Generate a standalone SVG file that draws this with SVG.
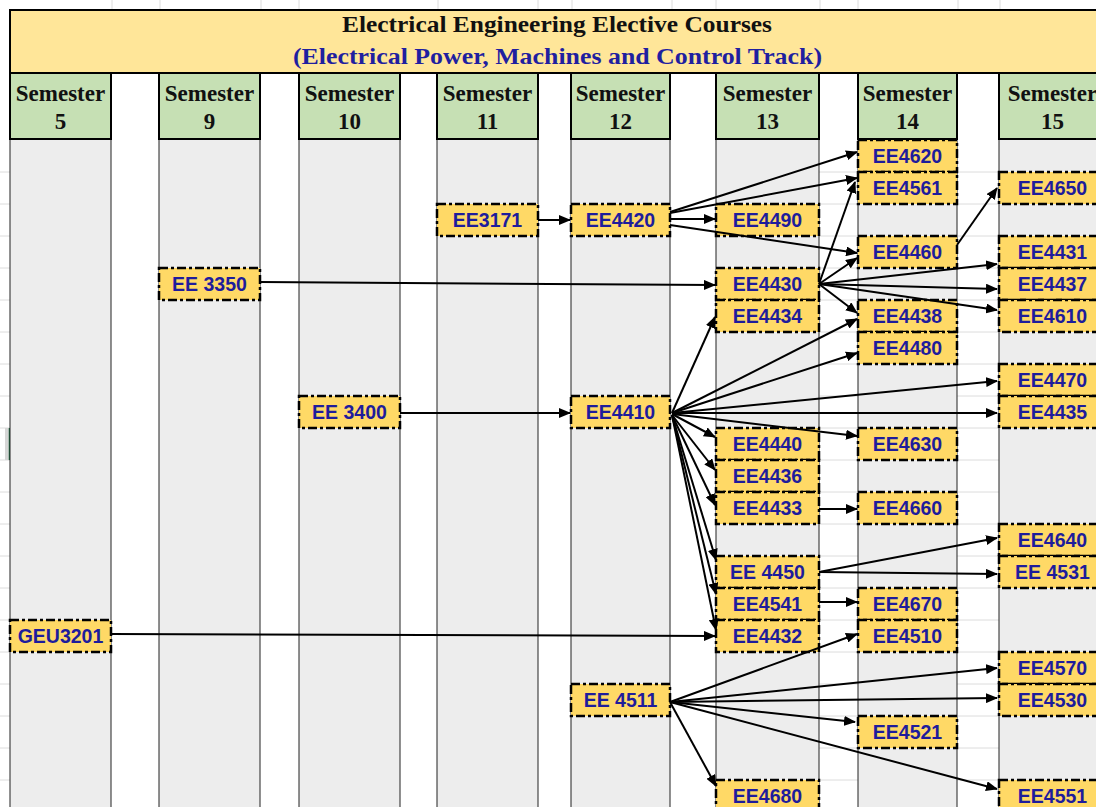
<svg xmlns="http://www.w3.org/2000/svg" width="1096" height="807" viewBox="0 0 1096 807">
<style>
.col{fill:#EDEDED;stroke:#222;stroke-width:1}
.hdr{fill:#C6E0B4;stroke:#000;stroke-width:2}
.sem{font-family:"Liberation Serif","Times New Roman",serif;font-weight:bold;font-size:23px;fill:#111;text-anchor:middle}
.node rect{fill:#FFD966;stroke:#000;stroke-width:2.5;stroke-dasharray:9 3 3 3}
.node text{font-family:"Liberation Sans",Arial,sans-serif;font-weight:bold;font-size:19.5px;fill:#1E1C9C;text-anchor:middle}
.grid{stroke:#DCDCDC;stroke-width:1}
#connectors line{stroke:#000;stroke-width:2;marker-end:url(#ah)}
</style>
<defs>
<marker id="ah" markerUnits="userSpaceOnUse" markerWidth="12" markerHeight="10" refX="11" refY="5" orient="auto">
<path d="M0,0 L12,5 L0,10 z" fill="#000"/>
</marker>
</defs>
<rect x="0" y="0" width="1096" height="807" fill="#fff"/>
<g class="grid">
<line x1="112" y1="0" x2="112" y2="10"/><line x1="160" y1="0" x2="160" y2="10"/><line x1="261" y1="0" x2="261" y2="10"/><line x1="299" y1="0" x2="299" y2="10"/><line x1="438" y1="0" x2="438" y2="10"/><line x1="538" y1="0" x2="538" y2="10"/><line x1="572" y1="0" x2="572" y2="10"/><line x1="672" y1="0" x2="672" y2="10"/><line x1="716" y1="0" x2="716" y2="10"/><line x1="820" y1="0" x2="820" y2="10"/><line x1="858" y1="0" x2="858" y2="10"/><line x1="958" y1="0" x2="958" y2="10"/><line x1="1000" y1="0" x2="1000" y2="10"/>
</g>
<g class="grid">
<line x1="0" y1="172" x2="10" y2="172"/><line x1="0" y1="204" x2="10" y2="204"/><line x1="0" y1="236" x2="10" y2="236"/><line x1="0" y1="268" x2="10" y2="268"/><line x1="0" y1="300" x2="10" y2="300"/><line x1="0" y1="332" x2="10" y2="332"/><line x1="0" y1="364" x2="10" y2="364"/><line x1="0" y1="396" x2="10" y2="396"/><line x1="0" y1="428" x2="10" y2="428"/><line x1="0" y1="460" x2="10" y2="460"/><line x1="0" y1="492" x2="10" y2="492"/><line x1="0" y1="524" x2="10" y2="524"/><line x1="0" y1="556" x2="10" y2="556"/><line x1="0" y1="588" x2="10" y2="588"/><line x1="0" y1="620" x2="10" y2="620"/><line x1="0" y1="652" x2="10" y2="652"/><line x1="0" y1="684" x2="10" y2="684"/><line x1="0" y1="716" x2="10" y2="716"/><line x1="0" y1="748" x2="10" y2="748"/><line x1="0" y1="780" x2="10" y2="780"/>
<line x1="819" y1="172" x2="858" y2="172"/><line x1="819" y1="204" x2="858" y2="204"/><line x1="819" y1="236" x2="858" y2="236"/><line x1="819" y1="268" x2="858" y2="268"/><line x1="819" y1="300" x2="858" y2="300"/><line x1="819" y1="332" x2="858" y2="332"/><line x1="819" y1="364" x2="858" y2="364"/><line x1="819" y1="396" x2="858" y2="396"/><line x1="819" y1="428" x2="858" y2="428"/><line x1="819" y1="460" x2="858" y2="460"/><line x1="819" y1="492" x2="858" y2="492"/><line x1="819" y1="524" x2="858" y2="524"/><line x1="819" y1="556" x2="858" y2="556"/><line x1="819" y1="588" x2="858" y2="588"/><line x1="819" y1="620" x2="858" y2="620"/><line x1="819" y1="652" x2="858" y2="652"/><line x1="819" y1="684" x2="858" y2="684"/><line x1="819" y1="716" x2="858" y2="716"/><line x1="819" y1="748" x2="858" y2="748"/><line x1="819" y1="780" x2="858" y2="780"/>
<line x1="957" y1="172" x2="999" y2="172"/><line x1="957" y1="204" x2="999" y2="204"/><line x1="957" y1="236" x2="999" y2="236"/><line x1="957" y1="268" x2="999" y2="268"/><line x1="957" y1="300" x2="999" y2="300"/><line x1="957" y1="332" x2="999" y2="332"/><line x1="957" y1="364" x2="999" y2="364"/><line x1="957" y1="396" x2="999" y2="396"/><line x1="957" y1="428" x2="999" y2="428"/><line x1="957" y1="460" x2="999" y2="460"/><line x1="957" y1="492" x2="999" y2="492"/><line x1="957" y1="524" x2="999" y2="524"/><line x1="957" y1="556" x2="999" y2="556"/><line x1="957" y1="588" x2="999" y2="588"/><line x1="957" y1="620" x2="999" y2="620"/><line x1="957" y1="652" x2="999" y2="652"/><line x1="957" y1="684" x2="999" y2="684"/><line x1="957" y1="716" x2="999" y2="716"/><line x1="957" y1="748" x2="999" y2="748"/><line x1="957" y1="780" x2="999" y2="780"/>
</g>
<rect x="5" y="428" width="5" height="32" fill="#D6D6D6"/>
<line x1="9.5" y1="428" x2="9.5" y2="460" stroke="#217346" stroke-width="1.5"/>
<g id="columns">
<rect class="col" x="10" y="139" width="101" height="680"/>
<rect class="col" x="159" y="139" width="101" height="680"/>
<rect class="col" x="299" y="139" width="101" height="680"/>
<rect class="col" x="437" y="139" width="101" height="680"/>
<rect class="col" x="571" y="139" width="99" height="680"/>
<rect class="col" x="716" y="139" width="103" height="680"/>
<rect class="col" x="858" y="139" width="99" height="680"/>
<rect class="col" x="999" y="139" width="107" height="680"/>
</g>
<g id="title">
<rect x="10" y="10" width="1100" height="63" fill="#FFE699" stroke="#000" stroke-width="2"/>
<text x="557" y="32" textLength="430" lengthAdjust="spacingAndGlyphs" style="font-family:'Liberation Serif','Times New Roman',serif;font-weight:bold;font-size:23px;fill:#111;text-anchor:middle">Electrical Engineering Elective Courses</text>
<text x="557.5" y="64" textLength="529" lengthAdjust="spacingAndGlyphs" style="font-family:'Liberation Serif','Times New Roman',serif;font-weight:bold;font-size:23px;fill:#1F1FA0;text-anchor:middle">(Electrical Power, Machines and Control Track)</text>
</g>
<g id="sem5"><rect class="hdr" x="10" y="73" width="101" height="66"/><text class="sem" x="60.5" y="101">Semester</text><text class="sem" x="60.5" y="129">5</text></g>
<g id="sem9"><rect class="hdr" x="159" y="73" width="101" height="66"/><text class="sem" x="209.5" y="101">Semester</text><text class="sem" x="209.5" y="129">9</text></g>
<g id="sem10"><rect class="hdr" x="299" y="73" width="101" height="66"/><text class="sem" x="349.5" y="101">Semester</text><text class="sem" x="349.5" y="129">10</text></g>
<g id="sem11"><rect class="hdr" x="437" y="73" width="101" height="66"/><text class="sem" x="487.5" y="101">Semester</text><text class="sem" x="487.5" y="129">11</text></g>
<g id="sem12"><rect class="hdr" x="571" y="73" width="99" height="66"/><text class="sem" x="620.5" y="101">Semester</text><text class="sem" x="620.5" y="129">12</text></g>
<g id="sem13"><rect class="hdr" x="716" y="73" width="103" height="66"/><text class="sem" x="767.5" y="101">Semester</text><text class="sem" x="767.5" y="129">13</text></g>
<g id="sem14"><rect class="hdr" x="858" y="73" width="99" height="66"/><text class="sem" x="907.5" y="101">Semester</text><text class="sem" x="907.5" y="129">14</text></g>
<g id="sem15"><rect class="hdr" x="999" y="73" width="107" height="66"/><text class="sem" x="1052.5" y="101">Semester</text><text class="sem" x="1052.5" y="129">15</text></g>
<g id="EE4620" class="node"><rect x="858" y="140" width="99" height="32"/><text x="907.5" y="163">EE4620</text></g>
<g id="EE4561" class="node"><rect x="858" y="172" width="99" height="32"/><text x="907.5" y="195">EE4561</text></g>
<g id="EE4650" class="node"><rect x="999" y="172" width="107" height="32"/><text x="1052.5" y="195">EE4650</text></g>
<g id="EE3171" class="node"><rect x="437" y="204" width="101" height="32"/><text x="487.5" y="227">EE3171</text></g>
<g id="EE4420" class="node"><rect x="571" y="204" width="99" height="32"/><text x="620.5" y="227">EE4420</text></g>
<g id="EE4490" class="node"><rect x="716" y="204" width="103" height="32"/><text x="767.5" y="227">EE4490</text></g>
<g id="EE4460" class="node"><rect x="858" y="236" width="99" height="32"/><text x="907.5" y="259">EE4460</text></g>
<g id="EE4431" class="node"><rect x="999" y="236" width="107" height="32"/><text x="1052.5" y="259">EE4431</text></g>
<g id="EE3350" class="node"><rect x="159" y="268" width="101" height="32"/><text x="209.5" y="291">EE 3350</text></g>
<g id="EE4430" class="node"><rect x="716" y="268" width="103" height="32"/><text x="767.5" y="291">EE4430</text></g>
<g id="EE4437" class="node"><rect x="999" y="268" width="107" height="32"/><text x="1052.5" y="291">EE4437</text></g>
<g id="EE4434" class="node"><rect x="716" y="300" width="103" height="32"/><text x="767.5" y="323">EE4434</text></g>
<g id="EE4438" class="node"><rect x="858" y="300" width="99" height="32"/><text x="907.5" y="323">EE4438</text></g>
<g id="EE4610" class="node"><rect x="999" y="300" width="107" height="32"/><text x="1052.5" y="323">EE4610</text></g>
<g id="EE4480" class="node"><rect x="858" y="332" width="99" height="32"/><text x="907.5" y="355">EE4480</text></g>
<g id="EE4470" class="node"><rect x="999" y="364" width="107" height="32"/><text x="1052.5" y="387">EE4470</text></g>
<g id="EE3400" class="node"><rect x="299" y="396" width="101" height="32"/><text x="349.5" y="419">EE 3400</text></g>
<g id="EE4410" class="node"><rect x="571" y="396" width="99" height="32"/><text x="620.5" y="419">EE4410</text></g>
<g id="EE4435" class="node"><rect x="999" y="396" width="107" height="32"/><text x="1052.5" y="419">EE4435</text></g>
<g id="EE4440" class="node"><rect x="716" y="428" width="103" height="32"/><text x="767.5" y="451">EE4440</text></g>
<g id="EE4630" class="node"><rect x="858" y="428" width="99" height="32"/><text x="907.5" y="451">EE4630</text></g>
<g id="EE4436" class="node"><rect x="716" y="460" width="103" height="32"/><text x="767.5" y="483">EE4436</text></g>
<g id="EE4433" class="node"><rect x="716" y="492" width="103" height="32"/><text x="767.5" y="515">EE4433</text></g>
<g id="EE4660" class="node"><rect x="858" y="492" width="99" height="32"/><text x="907.5" y="515">EE4660</text></g>
<g id="EE4640" class="node"><rect x="999" y="524" width="107" height="32"/><text x="1052.5" y="547">EE4640</text></g>
<g id="EE4450" class="node"><rect x="716" y="556" width="103" height="32"/><text x="767.5" y="579">EE 4450</text></g>
<g id="EE4531" class="node"><rect x="999" y="556" width="107" height="32"/><text x="1052.5" y="579">EE 4531</text></g>
<g id="EE4541" class="node"><rect x="716" y="588" width="103" height="32"/><text x="767.5" y="611">EE4541</text></g>
<g id="EE4670" class="node"><rect x="858" y="588" width="99" height="32"/><text x="907.5" y="611">EE4670</text></g>
<g id="GEU3201" class="node"><rect x="10" y="620" width="101" height="32"/><text x="60.5" y="643">GEU3201</text></g>
<g id="EE4432" class="node"><rect x="716" y="620" width="103" height="32"/><text x="767.5" y="643">EE4432</text></g>
<g id="EE4510" class="node"><rect x="858" y="620" width="99" height="32"/><text x="907.5" y="643">EE4510</text></g>
<g id="EE4570" class="node"><rect x="999" y="652" width="107" height="32"/><text x="1052.5" y="675">EE4570</text></g>
<g id="EE4511" class="node"><rect x="571" y="684" width="99" height="32"/><text x="620.5" y="707">EE 4511</text></g>
<g id="EE4530" class="node"><rect x="999" y="684" width="107" height="32"/><text x="1052.5" y="707">EE4530</text></g>
<g id="EE4521" class="node"><rect x="858" y="716" width="99" height="32"/><text x="907.5" y="739">EE4521</text></g>
<g id="EE4680" class="node"><rect x="716" y="780" width="103" height="32"/><text x="767.5" y="803">EE4680</text></g>
<g id="EE4551" class="node"><rect x="999" y="780" width="107" height="32"/><text x="1052.5" y="803">EE4551</text></g>
<g id="connectors">
<line x1="538" y1="220" x2="570" y2="220"/>
<line x1="670" y1="212" x2="857" y2="152"/>
<line x1="670" y1="213" x2="857" y2="178"/>
<line x1="670" y1="219" x2="715" y2="219"/>
<line x1="670" y1="225" x2="857" y2="253"/>
<line x1="260" y1="282" x2="715" y2="285"/>
<line x1="819" y1="284" x2="855" y2="182"/>
<line x1="819" y1="284" x2="857" y2="258"/>
<line x1="819" y1="284" x2="997" y2="264"/>
<line x1="819" y1="284" x2="997" y2="289"/>
<line x1="819" y1="284" x2="997" y2="310"/>
<line x1="819" y1="284" x2="857" y2="313"/>
<line x1="957" y1="245" x2="997" y2="188"/>
<line x1="400" y1="413" x2="570" y2="413"/>
<line x1="672" y1="413" x2="715" y2="317"/>
<line x1="672" y1="413" x2="857" y2="319"/>
<line x1="672" y1="413" x2="857" y2="353"/>
<line x1="672" y1="413" x2="997" y2="381"/>
<line x1="672" y1="413" x2="997" y2="413"/>
<line x1="672" y1="414" x2="857" y2="436"/>
<line x1="672" y1="414" x2="715" y2="437"/>
<line x1="672" y1="415" x2="715" y2="470"/>
<line x1="672" y1="415" x2="715" y2="505"/>
<line x1="672" y1="415" x2="716" y2="560"/>
<line x1="672" y1="415" x2="716" y2="594"/>
<line x1="672" y1="415" x2="716" y2="630"/>
<line x1="819" y1="509" x2="857" y2="509"/>
<line x1="819" y1="572" x2="997" y2="538"/>
<line x1="819" y1="572" x2="997" y2="574"/>
<line x1="819" y1="602" x2="857" y2="602"/>
<line x1="111" y1="634" x2="715" y2="636"/>
<line x1="670" y1="702" x2="857" y2="634"/>
<line x1="670" y1="702" x2="997" y2="668"/>
<line x1="670" y1="702" x2="997" y2="698"/>
<line x1="670" y1="702" x2="855" y2="722"/>
<line x1="670" y1="702" x2="997" y2="789"/>
<line x1="670" y1="702" x2="716" y2="786"/>
</g>
</svg>
